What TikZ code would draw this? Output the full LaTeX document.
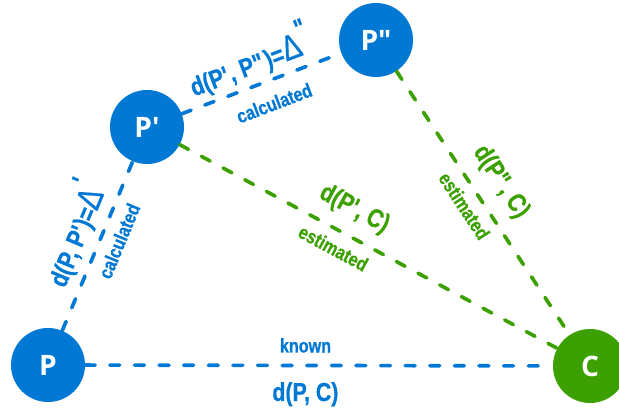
\documentclass[tikz,border=0pt]{standalone}
\usepackage{fontspec}
\usepackage{tikz}
\usetikzlibrary{positioning,calc}
\newfontfamily\lblfont[FakeStretch=0.82,FakeBold=0.6]{Liberation Sans}
\newfontfamily\nodefont{Open Sans}
\definecolor{dgblue}{RGB}{0,120,212}
\definecolor{dggreen}{RGB}{60,160,0}
\newcommand{\dlt}{{\mdseries\fontsize{25}{25}\selectfont Δ}}
\newcommand{\sq}{\textquotesingle}
\newcommand{\dq}{\textquotedbl}

\begin{document}
\begin{tikzpicture}[
    x=0.025cm, y=0.025cm,
    pnode/.style={circle, fill=#1, minimum size=1.85cm, inner sep=0pt, text=white, font=\nodefont\bfseries\fontsize{20}{20}\selectfont},
    pnode/.default=dgblue,
    link/.style={line width=2.6pt, dash pattern=on 7pt off 10.5pt, line cap=round, color=#1},
    link/.default=dgblue,
    big/.style={sloped, inner sep=0pt, text=#1, font=\lblfont\bfseries\fontsize{18.5}{18.5}\selectfont},
    big/.default=dgblue,
    small/.style={sloped, inner sep=0pt, text=#1, font=\lblfont\bfseries\fontsize{14}{14}\selectfont},
    small/.default=dgblue,
]
\useasboundingbox (0,0) rectangle (619,-412);

% Points
\node[pnode] (p) at (48,-365) {P};
\node[pnode] (p1) at (147,-127) {P\sq};
\node[pnode] (p2) at (376,-40) {P\dq};
\node[pnode=dggreen] (c) at (590,-366) {C};

% Distances
\draw[link] (p) -- (p1);
\draw[link] (p1) -- (p2);
\draw[link] (p) -- (c);
\draw[link=dggreen] (p1) -- (c);
\draw[link=dggreen] (p2) -- (c);

% Labels
\path (p.center) -- (p1.center)
    node[big, pos=.51, yshift=.72cm] (l_pp1) {d(P, P\sq)=\dlt\raisebox{1.3ex}{\sq}}
    node[small, pos=.55, yshift=-.45cm] (c_pp1) {calculated};
\path (p1.center) -- (p2.center)
    node[big, pos=.49, yshift=.67cm] (l_p1p2) {d(P\sq, P\dq)=\dlt\raisebox{1.3ex}{\dq}}
    node[small, pos=.52, yshift=-.57cm] (c_p1p2) {calculated};
\path (p1.center) -- (c.center)
    node[big=dggreen, pos=.44, yshift=.65cm] (l_p1c) {d(P\sq, C)}
    node[small=dggreen, pos=.44, yshift=-.45cm] (e_p1c) {estimated};
\path (p2.center) -- (c.center)
    node[big=dggreen, pos=.48, yshift=.66cm] (l_p2c) {d(P\dq, C)}
    node[small=dggreen, pos=.48, yshift=-.43cm] (e_p2c) {estimated};
\path (p.center) -- (c.center)
    node[small, pos=.475, yshift=.5cm] (k_pc) {known}
    node[big, pos=.475, yshift=-.72cm] (l_pc) {d(P, C)};

\end{tikzpicture}
\end{document}
